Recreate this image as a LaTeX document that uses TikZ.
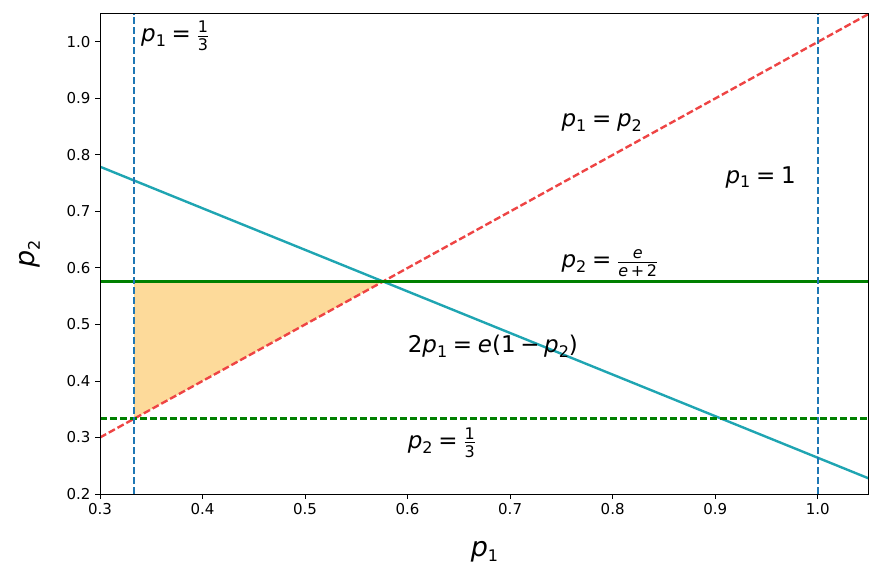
\documentclass[tikz,border=0pt]{standalone}
\usepackage{fontspec}
\setmainfont{DejaVu Sans}
\newcommand\pv[1]{\textit{p}\raisebox{-0.35ex}{\fontsize{16}{17}\selectfont #1}}
\newcommand\fr[2]{$\frac{\hbox{\fontsize{16}{16}\selectfont #1}}{\hbox{\fontsize{16}{16}\selectfont #2}}$}
\newcommand\eq{\hspace{0.25em}=\hspace{0.25em}}
\definecolor{mycy}{HTML}{1FA5B2}\definecolor{myrd}{HTML}{EE4444}
\definecolor{mybl}{HTML}{1F77B4}\definecolor{mygr}{HTML}{008000}\definecolor{myor}{HTML}{FDDA9A}
\begin{document}
\begin{tikzpicture}[x=1pt,y=1pt,
  tick/.style={font=\fontsize{15}{17}\selectfont},
  ann/.style={font=\fontsize{23}{26}\selectfont,anchor=base west,inner sep=0pt},
  dsh/.style={line width=2.4pt,dash pattern=on 7pt off 3pt}]
\useasboundingbox (0,0) rectangle (885,583);
\begin{scope}[shift={(-207.59pt,-24pt)},x=1025.3pt,y=565pt]
\clip (0.3,0.2) rectangle (1.05,1.05);
\fill[myor] (1/3,1/3) -- (1/3,0.5761) -- (0.5761,0.5761) -- cycle;
\draw[mycy,line width=2.4pt] (0.3,0.7793) -- (1.05,0.2274);
\draw[myrd,dsh] (0.3,0.3) -- (1.05,1.05);
\draw[mygr,line width=2.2pt] (0.3,0.5761) -- (1.05,0.5761);
\draw[mygr,dsh] (0.3,1/3) -- (1.05,1/3);
\draw[mybl,dsh] (1/3,0.2) -- (1/3,1.05);
\draw[mybl,dsh] (1,0.2) -- (1,1.05);
\end{scope}
\begin{scope}[shift={(-207.59pt,-24pt)},x=1025.3pt,y=565pt]
\draw[line width=1pt] (0.3,0.2) rectangle (1.05,1.05);
\foreach \v/\l in {0.3/0.3,0.4/0.4,0.5/0.5,0.6/0.6,0.7/0.7,0.8/0.8,0.9/0.9,1.0/1.0}{
  \draw[line width=1pt] (\v,0.2) -- ++(0,-5pt);
  \node[tick,anchor=north] (xt\l) at ([yshift=-6pt]\v,0.2) {\l};}
\foreach \v/\l in {0.2/0.2,0.3/0.3,0.4/0.4,0.5/0.5,0.6/0.6,0.7/0.7,0.8/0.8,0.9/0.9,1.0/1.0}{
  \draw[line width=1pt] (0.3,\v) -- ++(-5pt,0);
  \node[tick,anchor=east] (yt\l) at ([xshift=-6pt]0.3,\v) {\l};}
\node[font=\fontsize{27}{29}\selectfont] (xl) at ([yshift=-58pt]0.675,0.2) {\pv{1}};
\node[font=\fontsize{27}{29}\selectfont,rotate=90] (yl) at ([xshift=-70pt]0.3,0.625) {\pv{2}};
\node[ann] (a1) at (0.34,1.0) {\pv{1}\eq\fr{1}{3}};
\node[ann] (a2) at (0.75,0.85) {\pv{1}\eq\pv{2}};
\node[ann] (a3) at (0.91,0.75) {\pv{1}\eq 1};
\node[ann] (a4) at (0.75,0.6) {\pv{2}\eq\fr{\textit{e}}{\textit{e}\,+\,2}};
\node[ann] (a5) at (0.6,0.45) {2\pv{1}\eq\textit{e}(1\hspace{0.2em}−\hspace{0.2em}\pv{2})};
\node[ann] (a6) at (0.6,0.28) {\pv{2}\eq\fr{1}{3}};
\end{scope}
\end{tikzpicture}
\end{document}
